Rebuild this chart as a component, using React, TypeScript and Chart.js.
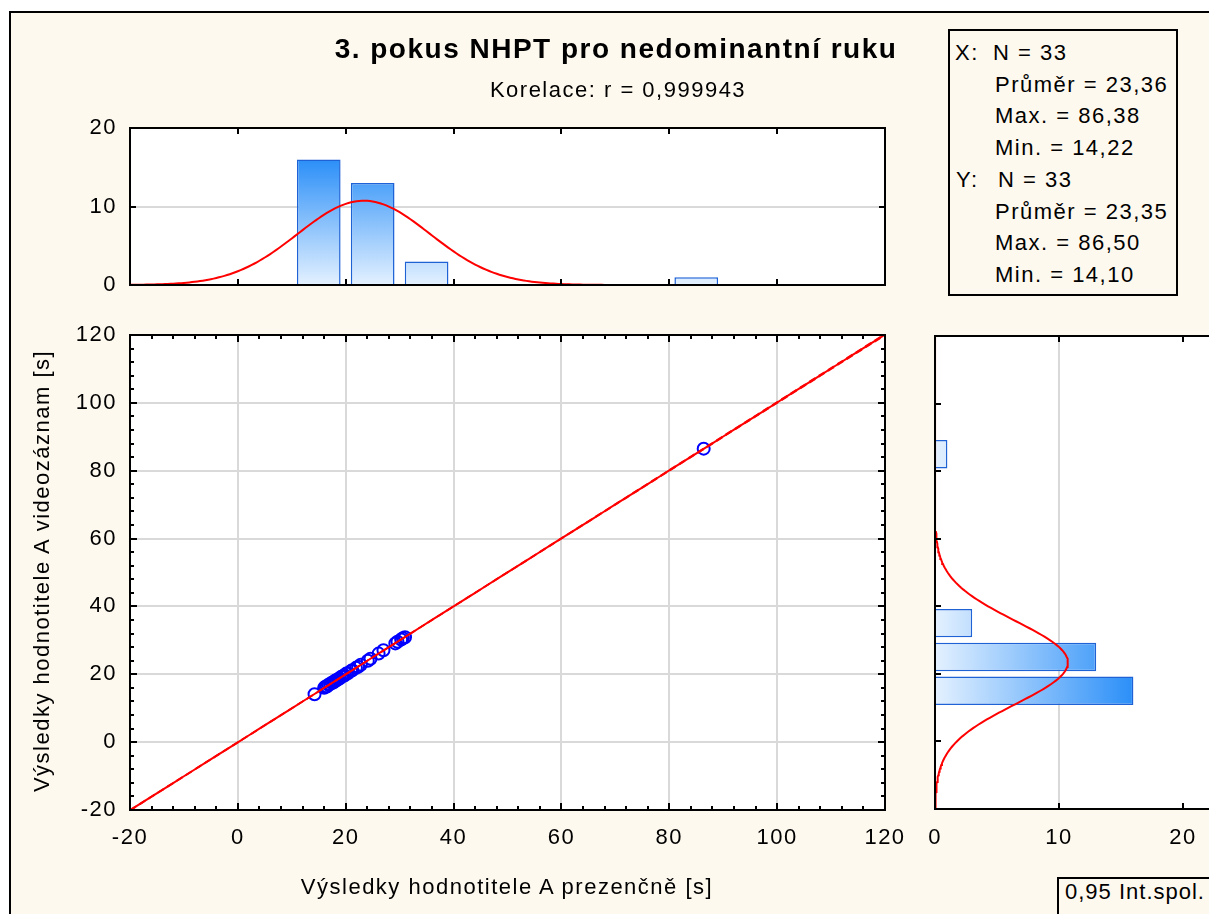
import React, { useEffect, useRef } from 'react';
import { Chart, registerables } from 'chart.js';

Chart.register(...registerables);

// ---------- data ----------
const X_VALUES = [
  14.22, 16.0, 16.2, 16.5, 16.8, 17.1, 17.4, 17.7, 18.0, 18.1, 18.3, 18.6, 18.9, 19.2, 19.5, 19.8,
  20.1, 20.4, 21.0, 21.2, 21.9, 22.3, 22.8, 24.1, 24.6, 26.1, 27.0, 29.2, 29.6,
  30.28, 30.6, 31.0,
  86.38,
];
const Y_VALUES = [
  14.1, 16.0, 16.3, 16.4, 16.9, 17.1, 17.5, 17.6, 18.0, 18.2, 18.2, 18.6, 18.8, 19.3, 19.5, 19.7,
  20.2, 20.3, 21.0, 21.2, 21.9, 22.2, 22.8, 24.0, 24.6, 26.1, 27.1, 29.1, 29.6,
  30.25, 30.6, 30.9,
  86.5,
];
const BIN_CENTERS = [15, 25, 35, 85];
const X_COUNTS = [16, 13, 3, 1];
const Y_COUNTS = [16, 13, 3, 1];
const BIN_WIDTH = 10;
const AXIS_TICKS = [-20, 0, 20, 40, 60, 80, 100, 120];
const COUNT_TICKS = [0, 10, 20];

const TITLE = '3. pokus NHPT pro nedominantní ruku';
const SUBTITLE = 'Korelace: r = 0,999943';
const X_TITLE = 'Výsledky hodnotitele A prezenčně [s]';
const Y_TITLE = 'Výsledky hodnotitele A videozáznam [s]';
const STATS_X = ['N = 33', 'Průměr = 23,36', 'Max. = 86,38', 'Min. = 14,22'];
const STATS_Y = ['N = 33', 'Průměr = 23,35', 'Max. = 86,50', 'Min. = 14,10'];
const CI_LABEL = '0,95 Int.spol.';

// ---------- style ----------
const FONT = "'Liberation Sans', Arial, sans-serif";
const FS = 22;
const LS = '1.5px';
const BG = '#FEF9EE';
const GRID = '#D9D9D9';
const RED = '#FF0000';
const BLUE = '#0000FF';
const BAR_LIGHT = '#E4F1FF';
const BAR_DARK = '#2B8FF8';
const BAR_BORDER = '#1E62D6';

// ---------- helpers ----------
function meanSd(a: number[]) {
  const n = a.length;
  const m = a.reduce((s, v) => s + v, 0) / n;
  const v = a.reduce((s, x) => s + (x - m) * (x - m), 0) / (n - 1);
  return { m, sd: Math.sqrt(v), n };
}

function normalCurve(a: number[], from: number, to: number, step: number) {
  const { m, sd, n } = meanSd(a);
  const k = (n * BIN_WIDTH) / (sd * Math.sqrt(2 * Math.PI));
  const pts: { v: number; d: number }[] = [];
  for (let v = from; v <= to + 1e-9; v += step) {
    const z = (v - m) / sd;
    pts.push({ v, d: k * Math.exp(-0.5 * z * z) });
  }
  return pts;
}

function regression() {
  const n = X_VALUES.length;
  const mx = X_VALUES.reduce((s, v) => s + v, 0) / n;
  const my = Y_VALUES.reduce((s, v) => s + v, 0) / n;
  let sxx = 0, sxy = 0;
  for (let i = 0; i < n; i++) {
    sxx += (X_VALUES[i] - mx) ** 2;
    sxy += (X_VALUES[i] - mx) * (Y_VALUES[i] - my);
  }
  const b = sxy / sxx;
  const a = my - b * mx;
  let sse = 0;
  for (let i = 0; i < n; i++) sse += (Y_VALUES[i] - (a + b * X_VALUES[i])) ** 2;
  const se = Math.sqrt(sse / (n - 2));
  const t = 2.04;
  const line: { x: number; y: number }[] = [];
  const lo: { x: number; y: number }[] = [];
  const hi: { x: number; y: number }[] = [];
  for (let x = -20; x <= 120 + 1e-9; x += 2) {
    const y = a + b * x;
    const h = t * se * Math.sqrt(1 / n + (x - mx) ** 2 / sxx);
    line.push({ x, y });
    lo.push({ x, y: y - h });
    hi.push({ x, y: y + h });
  }
  return { line, lo, hi };
}

function range(from: number, to: number, step: number) {
  const r: number[] = [];
  for (let v = from; v <= to + 1e-9; v += step) r.push(Math.round(v * 1000) / 1000);
  return r;
}

type Side = 'top' | 'bottom' | 'left' | 'right';
type TickSpec = { axis: string; values: number[]; len: number; sides: Side[] };

function framePlugin(id: string, specs: TickSpec[]) {
  return {
    id,
    beforeDraw(chart: any) {
      const { ctx, chartArea: a } = chart;
      ctx.letterSpacing = LS;
      ctx.save();
      ctx.fillStyle = '#FFFFFF';
      ctx.fillRect(a.left, a.top, a.right - a.left, a.bottom - a.top);
      ctx.restore();
    },
    afterDraw(chart: any) {
      const { ctx, chartArea: a, scales } = chart;
      ctx.save();
      ctx.strokeStyle = '#000';
      ctx.lineWidth = 2;
      ctx.beginPath();
      for (const s of specs) {
        const sc = scales[s.axis];
        for (const v of s.values) {
          const p = Math.round(sc.getPixelForValue(v));
          for (const side of s.sides) {
            if (side === 'bottom') { ctx.moveTo(p, a.bottom); ctx.lineTo(p, a.bottom - s.len); }
            if (side === 'top') { ctx.moveTo(p, a.top); ctx.lineTo(p, a.top + s.len); }
            if (side === 'left') { ctx.moveTo(a.left, p); ctx.lineTo(a.left + s.len, p); }
            if (side === 'right') { ctx.moveTo(a.right, p); ctx.lineTo(a.right - s.len, p); }
          }
        }
      }
      ctx.stroke();
      ctx.strokeRect(a.left, a.top, a.right - a.left, a.bottom - a.top);
      ctx.restore();
    },
  };
}

const tickFont = { family: FONT, size: FS };
const fixTicks = (vals: number[]) => (s: any) => {
  s.ticks = vals.map((v) => ({ value: v }));
};

function gradient(chart: any, axis: 'x' | 'y', max: number) {
  const sc = chart.scales[axis];
  if (!chart.chartArea || !sc) return BAR_DARK;
  const p0 = sc.getPixelForValue(0);
  const p1 = sc.getPixelForValue(max);
  const g = axis === 'y'
    ? chart.ctx.createLinearGradient(0, p0, 0, p1)
    : chart.ctx.createLinearGradient(p0, 0, p1, 0);
  g.addColorStop(0, BAR_LIGHT);
  g.addColorStop(1, BAR_DARK);
  return g;
}

function mainConfig(): any {
  const reg = regression();
  const minor = range(-20, 120, 4);
  return {
    type: 'scatter',
    data: {
      datasets: [
        { type: 'line', data: reg.line, borderColor: RED, borderWidth: 2, pointRadius: 0, order: 0 },
        { type: 'line', data: reg.lo, borderColor: RED, borderWidth: 1.5, borderDash: [7, 4], pointRadius: 0, order: 1 },
        { type: 'line', data: reg.hi, borderColor: RED, borderWidth: 1.5, borderDash: [7, 4], pointRadius: 0, order: 1 },
        {
          data: X_VALUES.map((x, i) => ({ x, y: Y_VALUES[i] })),
          pointRadius: 6,
          borderWidth: 2,
          borderColor: BLUE,
          backgroundColor: 'rgba(0,0,0,0)',
          order: 2,
        },
      ],
    },
    options: {
      animation: false,
      responsive: false,
      devicePixelRatio: 1,
      events: [],
      layout: { padding: { left: 70, top: 335, right: 324, bottom: 54 } },
      plugins: { legend: { display: false }, tooltip: { enabled: false } },
      scales: {
        x: {
          type: 'linear', min: -20, max: 120, offset: false,
          afterBuildTicks: fixTicks(AXIS_TICKS),
          afterFit: (s: any) => { s.height = 50; },
          ticks: { font: tickFont, color: '#000', padding: 15, maxRotation: 0, autoSkip: false, callback: (v: any) => String(v) },
          grid: { color: GRID, lineWidth: 2, drawTicks: false, offset: false },
          border: { display: false },
        },
        y: {
          type: 'linear', min: -20, max: 120, offset: false,
          afterBuildTicks: fixTicks(AXIS_TICKS),
          afterFit: (s: any) => { s.width = 60; },
          ticks: { font: tickFont, color: '#000', padding: 13, autoSkip: false, callback: (v: any) => String(v) },
          grid: { color: GRID, lineWidth: 2, drawTicks: false, offset: false },
          border: { display: false },
        },
      },
    },
    plugins: [
      framePlugin('frameMain', [
        { axis: 'x', values: minor, len: 4, sides: ['top', 'bottom'] },
        { axis: 'y', values: minor, len: 4, sides: ['left', 'right'] },
        { axis: 'x', values: AXIS_TICKS, len: 7, sides: ['top', 'bottom'] },
        { axis: 'y', values: AXIS_TICKS, len: 7, sides: ['left', 'right'] },
      ]),
    ],
  };
}

function topConfig(): any {
  const curve = normalCurve(X_VALUES, -20, 120, 0.5);
  const maxCount = Math.max(...X_COUNTS);
  return {
    type: 'bar',
    data: {
      datasets: [
        { type: 'line', data: curve.map((p) => ({ x: p.v, y: p.d })), borderColor: RED, borderWidth: 2, pointRadius: 0, order: 0 },
        {
          type: 'bar',
          data: BIN_CENTERS.map((c, i) => ({ x: c, y: X_COUNTS[i] })),
          backgroundColor: (ctx: any) => gradient(ctx.chart, 'y', maxCount),
          borderColor: BAR_BORDER,
          borderWidth: 1.5,
          barPercentage: 1,
          categoryPercentage: 0.81,
          order: 1,
        },
      ],
    },
    options: {
      animation: false,
      responsive: false,
      devicePixelRatio: 1,
      events: [],
      layout: { padding: { left: 70, top: 128, right: 324, bottom: 629 } },
      plugins: { legend: { display: false }, tooltip: { enabled: false } },
      scales: {
        x: { type: 'linear', min: -20, max: 120, offset: false, display: false, afterBuildTicks: fixTicks(AXIS_TICKS), grid: { offset: false } },
        y: {
          type: 'linear', min: 0, max: 20, offset: false,
          afterBuildTicks: fixTicks(COUNT_TICKS),
          afterFit: (s: any) => { s.width = 60; },
          ticks: { font: tickFont, color: '#000', padding: 13, autoSkip: false, callback: (v: any) => String(v) },
          grid: { color: GRID, lineWidth: 2, drawTicks: false, offset: false },
          border: { display: false },
        },
      },
    },
    plugins: [
      framePlugin('frameTop', [
        { axis: 'x', values: AXIS_TICKS, len: 6, sides: ['top', 'bottom'] },
        { axis: 'y', values: COUNT_TICKS, len: 6, sides: ['left', 'right'] },
      ]),
    ],
  };
}

function rightConfig(): any {
  const curve = normalCurve(Y_VALUES, -20, 120, 0.5);
  const maxCount = Math.max(...Y_COUNTS);
  return {
    type: 'bar',
    data: {
      datasets: [
        { type: 'line', indexAxis: 'y', data: curve.map((p) => ({ x: p.d, y: p.v })), borderColor: RED, borderWidth: 2, pointRadius: 0, order: 0 },
        {
          type: 'bar',
          indexAxis: 'y',
          data: BIN_CENTERS.map((c, i) => ({ x: Y_COUNTS[i], y: c })),
          backgroundColor: (ctx: any) => gradient(ctx.chart, 'x', maxCount),
          borderColor: BAR_BORDER,
          borderWidth: 1.5,
          barPercentage: 1,
          categoryPercentage: 0.84,
          order: 1,
        },
      ],
    },
    options: {
      indexAxis: 'y',
      animation: false,
      responsive: false,
      devicePixelRatio: 1,
      events: [],
      layout: { padding: { left: 935, top: 336, right: 55, bottom: 55 } },
      plugins: { legend: { display: false }, tooltip: { enabled: false } },
      scales: {
        x: {
          type: 'linear', min: 0, max: 25, offset: false,
          afterBuildTicks: fixTicks(COUNT_TICKS),
          afterFit: (s: any) => { s.height = 50; },
          ticks: { font: tickFont, color: '#000', padding: 16, maxRotation: 0, autoSkip: false, callback: (v: any) => String(v) },
          grid: {
            color: (c: any) => (c.tick && c.tick.value === 10 ? GRID : 'rgba(0,0,0,0)'),
            lineWidth: 2, drawTicks: false, offset: false,
          },
          border: { display: false },
        },
        y: { type: 'linear', min: -20, max: 120, offset: false, display: false, afterBuildTicks: fixTicks(AXIS_TICKS), grid: { offset: false } },
      },
    },
    plugins: [
      framePlugin('frameRight', [
        { axis: 'y', values: AXIS_TICKS, len: 6, sides: ['left'] },
        { axis: 'x', values: COUNT_TICKS, len: 6, sides: ['top', 'bottom'] },
      ]),
    ],
  };
}

export default function App() {
  const mainRef = useRef<HTMLCanvasElement>(null);
  const topRef = useRef<HTMLCanvasElement>(null);
  const rightRef = useRef<HTMLCanvasElement>(null);

  useEffect(() => {
    const charts = [
      new Chart(topRef.current as HTMLCanvasElement, topConfig()),
      new Chart(mainRef.current as HTMLCanvasElement, mainConfig()),
      new Chart(rightRef.current as HTMLCanvasElement, rightConfig()),
    ];
    return () => charts.forEach((c) => c.destroy());
  }, []);

  const txt: any = {
    position: 'absolute',
    fontFamily: FONT,
    fontSize: FS,
    lineHeight: FS + 'px',
    letterSpacing: LS,
    color: '#000',
    whiteSpace: 'nowrap',
  };
  const cv: any = { position: 'absolute', left: 0, top: 0 };
  const statTop = (i: number) => 53 + i * 31.7 - FS / 2;

  return (
    <div style={{ position: 'absolute', left: 0, top: 0, width: 1209, height: 914, overflow: 'hidden', background: '#FFFFFF' }}>
      <div style={{ position: 'absolute', left: 9, top: 11, width: 1400, height: 1100, border: '2px solid #000', background: BG }} />
      <canvas ref={topRef} width={1209} height={914} style={cv} />
      <canvas ref={mainRef} width={1209} height={914} style={cv} />
      <canvas ref={rightRef} width={1300} height={914} style={cv} />

      <div style={{ ...txt, left: 116, width: 1000, top: 49 - 14, fontSize: 28, lineHeight: '28px', fontWeight: 'bold', textAlign: 'center' }}>{TITLE}</div>
      <div style={{ ...txt, left: 118, width: 1000, top: 90 - FS / 2, textAlign: 'center' }}>{SUBTITLE}</div>

      <div style={{ position: 'absolute', left: 948, top: 29, width: 226, height: 263, border: '2px solid #000', background: BG }} />
      <div style={{ ...txt, left: 955, top: statTop(0) }}>X:</div>
      <div style={{ ...txt, left: 993, top: statTop(0) }}>{STATS_X[0]}</div>
      {STATS_X.slice(1).map((s, i) => (
        <div key={'x' + i} style={{ ...txt, left: 995, top: statTop(i + 1) }}>{s}</div>
      ))}
      <div style={{ ...txt, left: 956, top: statTop(4) }}>Y:</div>
      <div style={{ ...txt, left: 998, top: statTop(4) }}>{STATS_Y[0]}</div>
      {STATS_Y.slice(1).map((s, i) => (
        <div key={'y' + i} style={{ ...txt, left: 995, top: statTop(i + 5) }}>{s}</div>
      ))}

      <div style={{ ...txt, left: 7, width: 1000, top: 887 - FS / 2, textAlign: 'center' }}>{X_TITLE}</div>
      <div style={{ ...txt, left: 42 - 300, width: 600, top: 571 - FS / 2, textAlign: 'center', transform: 'rotate(-90deg)' }}>{Y_TITLE}</div>

      <div style={{ position: 'absolute', left: 1057, top: 877, width: 300, height: 100, border: '2px solid #000', background: BG }} />
      <div style={{ ...txt, left: 1065, top: 892 - FS / 2, letterSpacing: '1px' }}>{CI_LABEL}</div>
    </div>
  );
}
